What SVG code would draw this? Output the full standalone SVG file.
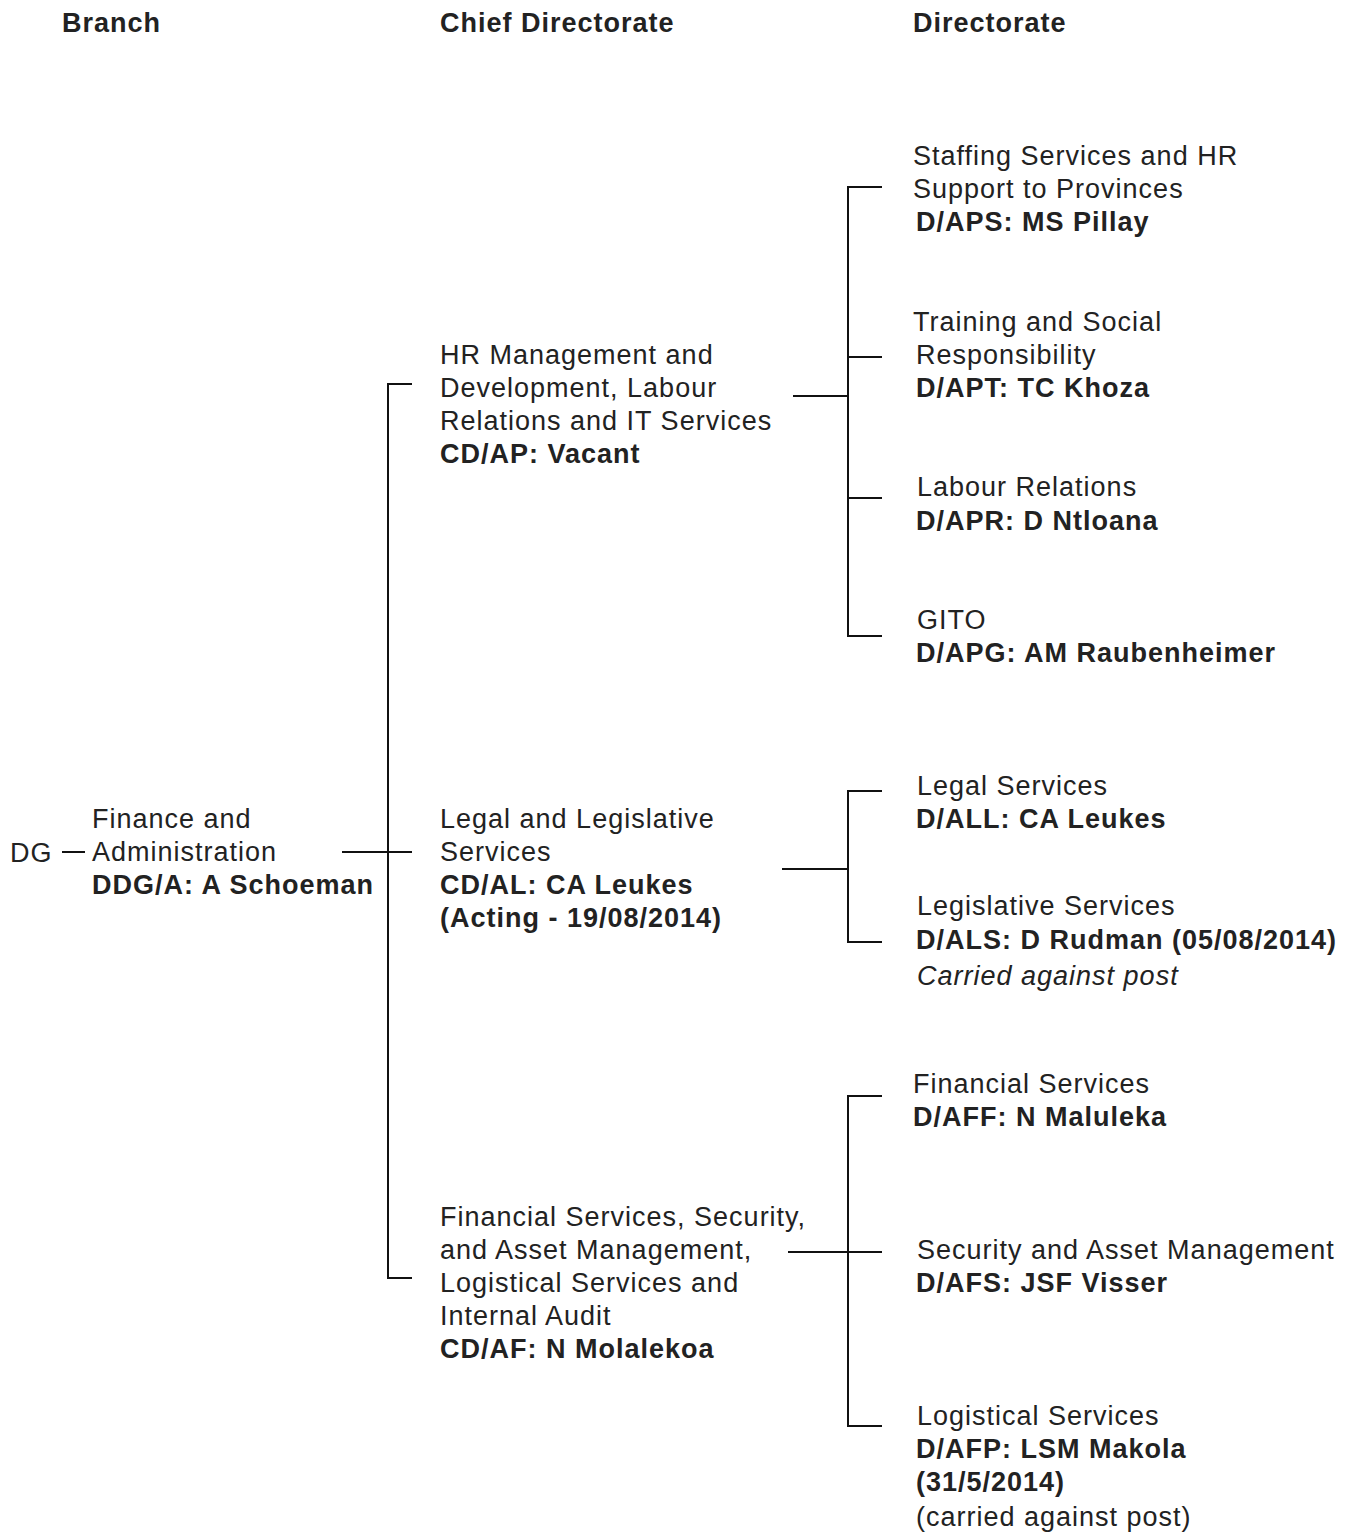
<svg xmlns="http://www.w3.org/2000/svg" width="1352" height="1533" viewBox="0 0 1352 1533">
<style>
text{font-family:"Liberation Sans",Arial,sans-serif;font-size:27px;letter-spacing:1px;fill:#222}
.b{font-weight:bold}
.i{font-style:italic}
.c line{stroke:#111;stroke-width:2}
</style>
<rect width="1352" height="1533" fill="#fff"/>
<g id="headers">
<text class="b" x="62" y="32">Branch</text>
<text class="b" x="440" y="32">Chief Directorate</text>
<text class="b" x="913" y="32">Directorate</text>
</g>
<g id="dg"><text x="10" y="862">DG</text></g>
<g id="branch">
<text x="92" y="828">Finance and</text>
<text x="92" y="861">Administration</text>
<text class="b" x="92" y="894">DDG/A: A Schoeman</text>
</g>
<g id="cd-ap">
<text x="440" y="364">HR Management and</text>
<text x="440" y="397">Development, Labour</text>
<text x="440" y="430">Relations and IT Services</text>
<text class="b" x="440" y="463">CD/AP: Vacant</text>
</g>
<g id="cd-al">
<text x="440" y="828">Legal and Legislative</text>
<text x="440" y="861">Services</text>
<text class="b" x="440" y="894">CD/AL: CA Leukes</text>
<text class="b" x="440" y="927">(Acting - 19/08/2014)</text>
</g>
<g id="cd-af">
<text x="440" y="1226">Financial Services, Security,</text>
<text x="440" y="1259">and Asset Management,</text>
<text x="440" y="1292">Logistical Services and</text>
<text x="440" y="1325">Internal Audit</text>
<text class="b" x="440" y="1358">CD/AF: N Molalekoa</text>
</g>
<g id="d-aps">
<text x="913" y="165">Staffing Services and HR</text>
<text x="913" y="198">Support to Provinces</text>
<text class="b" x="916" y="231">D/APS: MS Pillay</text>
</g>
<g id="d-apt">
<text x="913" y="331">Training and Social</text>
<text x="916" y="364">Responsibility</text>
<text class="b" x="916" y="397">D/APT: TC Khoza</text>
</g>
<g id="d-apr">
<text x="917" y="496">Labour Relations</text>
<text class="b" x="916" y="530">D/APR: D Ntloana</text>
</g>
<g id="d-apg">
<text x="917" y="629">GITO</text>
<text class="b" x="916" y="662">D/APG: AM Raubenheimer</text>
</g>
<g id="d-all">
<text x="917" y="795">Legal Services</text>
<text class="b" x="916" y="828">D/ALL: CA Leukes</text>
</g>
<g id="d-als">
<text x="917" y="915">Legislative Services</text>
<text class="b" x="916" y="949">D/ALS: D Rudman (05/08/2014)</text>
<text class="i" x="917" y="985">Carried against post</text>
</g>
<g id="d-aff">
<text x="913" y="1093">Financial Services</text>
<text class="b" x="913" y="1126">D/AFF: N Maluleka</text>
</g>
<g id="d-afs">
<text x="917" y="1259">Security and Asset Management</text>
<text class="b" x="916" y="1292">D/AFS: JSF Visser</text>
</g>
<g id="d-afp">
<text x="917" y="1425">Logistical Services</text>
<text class="b" x="916" y="1458">D/AFP: LSM Makola</text>
<text class="b" x="916" y="1491">(31/5/2014)</text>
<text x="916" y="1526">(carried against post)</text>
</g>
<g id="connectors" class="c">
<line x1="62" y1="852" x2="85" y2="852"/>
<line x1="342" y1="852" x2="412" y2="852"/>
<line x1="388" y1="384" x2="388" y2="1278"/>
<line x1="387" y1="384" x2="412" y2="384"/>
<line x1="387" y1="1278" x2="412" y2="1278"/>
<line x1="793" y1="396" x2="848" y2="396"/>
<line x1="848" y1="187" x2="848" y2="636"/>
<line x1="847" y1="187" x2="882" y2="187"/>
<line x1="847" y1="357" x2="882" y2="357"/>
<line x1="847" y1="498" x2="882" y2="498"/>
<line x1="847" y1="636" x2="882" y2="636"/>
<line x1="782" y1="869" x2="848" y2="869"/>
<line x1="848" y1="791" x2="848" y2="942"/>
<line x1="847" y1="791" x2="882" y2="791"/>
<line x1="847" y1="942" x2="882" y2="942"/>
<line x1="788" y1="1252" x2="882" y2="1252"/>
<line x1="848" y1="1096" x2="848" y2="1426"/>
<line x1="847" y1="1096" x2="882" y2="1096"/>
<line x1="847" y1="1426" x2="882" y2="1426"/>
</g>
</svg>
